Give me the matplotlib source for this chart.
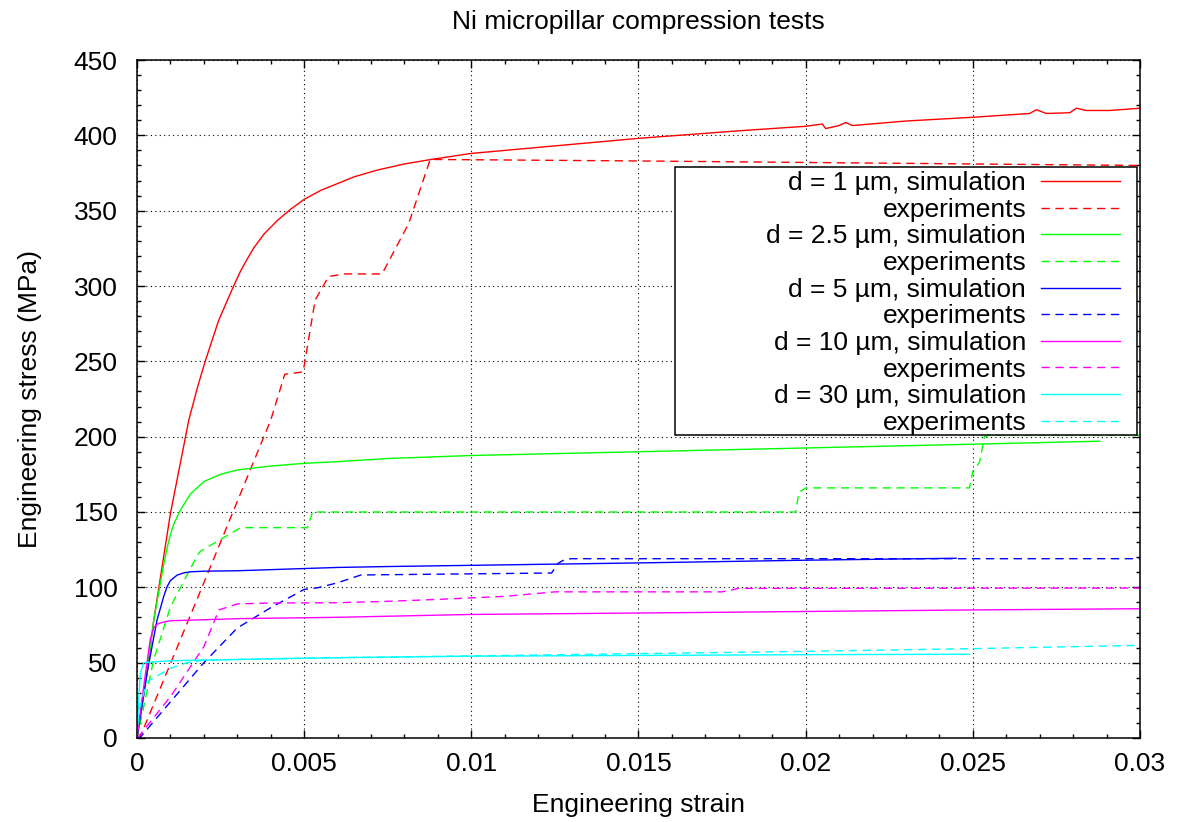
#!/usr/bin/python3
# Ni micropillar compression: simulation vs experiments

import matplotlib
matplotlib.use("Agg")
import matplotlib.pyplot as plt
from matplotlib.patches import Rectangle
from matplotlib.ticker import MultipleLocator, FuncFormatter

title = "Ni micropillar compression tests"
xaxis = "Engineering strain"
yaxis = "Engineering stress (MPa)"

# d = 1 um
sim1_x = [0, 0.0003, 0.0005, 0.001, 0.00155, 0.0018, 0.00204, 0.00244, 0.00289, 0.0031, 0.0033,
          0.0035, 0.0038, 0.0042, 0.0046, 0.005, 0.0055, 0.006, 0.0065, 0.0072, 0.008, 0.0088,
          0.01, 0.012, 0.015, 0.018, 0.020, 0.0205, 0.0206, 0.021, 0.0212, 0.0214, 0.023, 0.025,
          0.0267, 0.0269, 0.0272, 0.0279, 0.0281, 0.0284, 0.0291, 0.03]
sim1_y = [0, 43, 78, 149, 211, 232, 250, 277, 300, 310, 318,
          325.5, 334.5, 343.5, 351, 357.5, 363.5, 368, 372.5, 377, 381, 384,
          388, 392, 398, 403, 406, 407.5, 404.5, 406.5, 408.5, 406.5, 409.5, 412,
          414.5, 417, 414.5, 415, 418, 416.5, 416.5, 418]
exp1_x = [0, 0.0001, 0.002, 0.004, 0.00442, 0.00497, 0.00533, 0.00573, 0.0062, 0.00733, 0.00813,
          0.00877, 0.015, 0.02, 0.025, 0.03]
exp1_y = [0, 1, 103, 211, 241.4, 243, 290.7, 306.3, 308, 308, 341.6,
          384, 383, 382, 381, 380]

# d = 2.5 um
sim2_x = [0, 0.0003, 0.0005, 0.0007, 0.0008, 0.0009, 0.001, 0.0011, 0.0013, 0.0016, 0.002,
          0.0025, 0.003, 0.004, 0.005, 0.006, 0.0075, 0.01, 0.015, 0.02, 0.025, 0.0288]
sim2_y = [0, 43, 78, 103, 115, 126, 135, 142, 151.3, 162, 170.2,
          175, 177.9, 180.5, 182.3, 183.4, 185.5, 187.5, 190, 192.5, 195, 197]
exp2_x = [0, 0.00005, 0.0005, 0.001, 0.0018, 0.0019, 0.0031, 0.0051, 0.00525, 0.0197, 0.0198,
          0.0200, 0.0249, 0.0250, 0.0252, 0.02535, 0.0255, 0.03]
exp2_y = [0, 5, 52, 87, 121, 124, 139.6, 139.6, 150, 150, 163,
          166, 166, 177, 183, 200, 201, 201]

# d = 5 um
sim5_x = [0, 0.0003, 0.0006, 0.0008, 0.0009, 0.001, 0.0012, 0.0014, 0.0016, 0.002, 0.003,
          0.006, 0.0075, 0.01, 0.015, 0.02, 0.0245]
sim5_y = [0, 43, 78.3, 94, 100.4, 104.5, 108.1, 109.6, 110.3, 110.7, 111,
          113.2, 113.8, 114.6, 116.2, 118, 119.3]
exp5_x = [0, 0.0001, 0.002, 0.003, 0.004, 0.005, 0.0054, 0.006, 0.0067, 0.0124, 0.0126,
          0.0128, 0.013, 0.03]
exp5_y = [0, 0.5, 50, 73, 86.5, 98.6, 99.7, 103, 108.2, 109.5, 116,
          118.5, 119, 119]

# d = 10 um
sim10_x = [0, 0.0002, 0.0004, 0.0005, 0.0006, 0.0008, 0.001, 0.003, 0.006, 0.01, 0.0168,
           0.025, 0.03]
sim10_y = [0, 34, 66, 73, 75.5, 77, 77.8, 79.2, 80.1, 82, 83.3,
           85, 85.8]
exp10_x = [0, 0.00005, 0.001, 0.002, 0.00245, 0.003, 0.004, 0.006, 0.0075, 0.009, 0.011,
           0.0125, 0.0175, 0.018, 0.03]
exp10_y = [0, 1, 27.4, 60.6, 85, 89, 89.6, 89.8, 90.7, 92, 94,
           97, 97, 99.3, 99.5]

# d = 30 um
sim30_x = [0, 0.00005, 0.0001, 0.0002, 0.001, 0.006, 0.01, 0.015, 0.02, 0.0249]
sim30_y = [0, 25, 43, 50, 51.3, 53.3, 54.3, 54.8, 55.3, 55.6]
exp30_x = [0, 0.00005, 0.0003, 0.001, 0.0015, 0.002, 0.005, 0.01, 0.015, 0.02, 0.025, 0.03]
exp30_y = [0, 18, 37.4, 46.2, 50, 51.7, 53, 54.5, 56, 57.5, 59.3, 61.5]

sizes = ["1", "2.5", "5", "10", "30"]
colors = ["#ff0000", "#00ff00", "#0000ff", "#ff00ff", "#00ffff"]
sims = [(sim1_x, sim1_y), (sim2_x, sim2_y), (sim5_x, sim5_y), (sim10_x, sim10_y), (sim30_x, sim30_y)]
exps = [(exp1_x, exp1_y), (exp2_x, exp2_y), (exp5_x, exp5_y), (exp10_x, exp10_y), (exp30_x, exp30_y)]

plt.rcParams['font.family'] = ['Liberation Sans', 'DejaVu Sans']
plt.rcParams['font.size'] = 19

fig = plt.figure(figsize=(11.85, 8.22), dpi=100)
ax = fig.add_axes([0.1156, 0.1022, 0.8464, 0.8248])

for d, c, (sx, sy), (ex, ey) in zip(sizes, colors, sims, exps):
    ax.plot(sx, sy, color=c, lw=1.0, label="d = %s \u00b5m, simulation" % d)
    ax.plot(ex, ey, color=c, lw=1.0, linestyle=(0, (6, 4)), label="experiments")

ax.set_xlim(0, 0.03)
ax.set_ylim(0, 450)
ax.xaxis.set_major_locator(MultipleLocator(0.005))
ax.xaxis.set_minor_locator(MultipleLocator(0.001))
ax.yaxis.set_major_locator(MultipleLocator(50))
ax.yaxis.set_minor_locator(MultipleLocator(10))
ax.xaxis.set_major_formatter(FuncFormatter(lambda v, p: "%g" % round(v, 4)))
ax.tick_params(which='both', direction='in', top=True, right=True, width=1.0)
ax.tick_params(which='major', length=6)
ax.tick_params(axis='x', which='major', pad=10)
ax.tick_params(axis='y', which='major', pad=14)
ax.tick_params(which='minor', length=3)
ax.grid(True, which='major', color='black', linestyle=(0, (1, 3)), lw=0.8)
ax.set_axisbelow(True)
for s in ax.spines.values():
    s.set_linewidth(1.1)

ax.set_xlabel(xaxis, labelpad=12)
ax.set_ylabel(yaxis, labelpad=23)
ax.set_title(title, fontsize=19, pad=22)

# key box (gnuplot style: opaque, wider than its text)
ax.add_patch(Rectangle((0.536, 0.447), 0.461, 0.395, transform=ax.transAxes,
                       facecolor='white', edgecolor='black', lw=1.1, zorder=4))
leg = ax.legend(loc='upper right', bbox_to_anchor=(0.980, 0.836), borderaxespad=0,
                markerfirst=False, frameon=False, handlelength=3.0, handletextpad=0.55,
                labelspacing=0.1, borderpad=0)
leg.set_zorder(5)

plt.savefig("out.png")
